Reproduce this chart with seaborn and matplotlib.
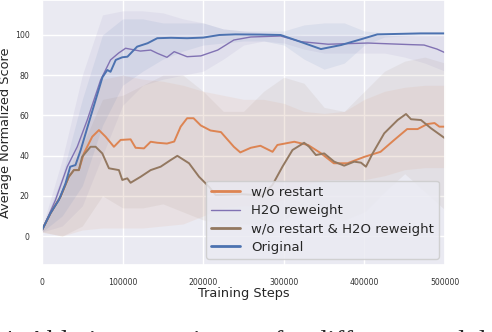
import numpy as np
import pandas as pd
import matplotlib
matplotlib.use("Agg")
import matplotlib.pyplot as plt
import seaborn as sns

# mean curves
steps_norestart = [0, 10500, 23000, 33300, 39500, 45700, 51900, 62300, 70600, 78900, 89200, 97500,
                   109900, 116100, 126500, 134800, 143000, 155000, 164000, 172000, 180000, 188000,
                   197000, 209000, 222000, 238000, 246000, 259000, 271000, 286000, 292000, 313000,
                   330000, 346000, 362000, 379000, 400000, 420000, 437000, 453000, 466000, 478000,
                   487000, 493000, 500000]
score_norestart = [3, 11.3, 19.6, 29.5, 32.8, 32.8, 41.1, 49.4, 52.7, 49.4, 44.4, 47.8,
                   48.1, 43.9, 43.6, 46.9, 46.4, 46.0, 47.0, 54.4, 58.6, 58.6,
                   55.0, 52.5, 51.7, 44.4, 41.6, 43.9, 44.9, 41.9, 45.3, 46.9,
                   45.3, 41.2, 36.2, 36.2, 39.4, 41.9, 47.8, 53.2, 53.2, 55.7,
                   56.2, 54.4, 54.4]

steps_h2o = [0, 8000, 16800, 31300, 43700, 56100, 72700, 85000, 95000, 103700, 122000, 134800,
             143000, 155000, 164000, 180000, 197000, 218000, 238000, 259000, 296000, 321000,
             355000, 404000, 457800, 474000, 490000, 500000]
score_h2o = [3, 10, 18, 34.5, 44.4, 57.7, 77.6, 87.6, 91, 93.4, 92, 92.5,
             90.9, 88.9, 91.7, 89.2, 89.6, 92.5, 97.5, 99, 99.5, 96.7,
             95.4, 96, 95.2, 95, 93, 91.2]

steps_both = [0, 10500, 23000, 33300, 39500, 45700, 49900, 60200, 66500, 74800, 83000, 95400,
              99600, 105800, 109900, 122400, 134800, 147200, 159600, 167900, 182400, 194800,
              207200, 215500, 232000, 248700, 265200, 271000, 277600, 285900, 298300, 310800,
              325200, 331400, 339800, 350100, 362500, 374900, 387300, 395700, 401900, 410200,
              424600, 441200, 451600, 457800, 470200, 482600, 500000]
score_both = [3, 11.3, 19.6, 29.5, 32.8, 32.8, 39.5, 44.4, 44.4, 41.1, 33.7, 32.8,
              27.9, 28.7, 26.5, 29.5, 32.8, 34.5, 37.8, 39.9, 36.2, 29.5,
              24.5, 20.4, 20.6, 20.8, 20.4, 19.8, 22.0, 25.4, 34.5, 42.8,
              46.4, 44.4, 40.3, 41.1, 37.0, 35.0, 37.0, 36.5, 34.5, 41.1,
              51.1, 57.7, 60.7, 58.1, 57.7, 53.6, 48.6]

steps_orig = [0, 10500, 21000, 29000, 35000, 41500, 48000, 60000, 75000, 81000, 85000, 91500,
              99500, 106000, 118000, 131000, 143000, 160000, 180000, 200000, 220000, 240000,
              270000, 296000, 320000, 346000, 371000, 396000, 416000, 470000, 500000]
score_orig = [3, 11.4, 18, 26, 34.5, 35.3, 42.8, 59, 79, 82.6, 81.7, 87.6,
              88.9, 89.2, 94.2, 95.9, 98.4, 98.6, 98.4, 98.7, 100, 100.3,
              100.2, 100, 96.7, 93, 95, 97.9, 100.3, 100.8, 100.8]

# shaded bands on a coarser grid
band_steps = [0, 25000, 50000, 75000, 100000, 125000, 150000, 175000, 200000, 225000, 250000,
              275000, 300000, 325000, 350000, 375000, 400000, 425000, 450000, 475000, 500000]
norestart_lo = [2, 0, 3, 4, 4, 4, 5, 6, 10, 14, 15, 15, 18, 25, 28, 28, 28, 30, 33, 34, 34]
norestart_hi = [4, 22, 52, 78, 80, 78, 77, 75, 72, 70, 68, 68, 66, 62, 61, 62, 68, 72, 74, 75, 75]
h2o_lo = [2, 5, 15, 40, 65, 75, 78, 80, 82, 88, 95, 97, 96, 93, 91, 91, 91, 91, 89, 86, 82]
h2o_hi = [4, 38, 80, 110, 112, 112, 111, 108, 106, 103, 102, 101, 100.5, 100, 100, 100, 100, 100,
          100, 100, 100]
both_lo = [2, 0, 5, 20, 14, 14, 16, 12, 8, 6, 6, 6, 8, 14, 10, 8, 12, 22, 31, 22, 13]
both_hi = [4, 20, 45, 68, 70, 75, 80, 80, 72, 62, 62, 72, 79, 76, 64, 62, 72, 82, 87, 89, 86]
orig_lo = [2, 10, 25, 55, 75, 82, 88, 92, 95, 96, 97, 97, 95, 88, 83, 86, 95, 99, 99.5, 100, 100]
orig_hi = [4, 30, 68, 100, 108, 108, 106, 106, 106, 103, 102, 102, 102, 105, 106, 106, 102, 101,
           101, 101, 101]

labels = ["w/o restart", "H2O reweight", "w/o restart & H2O reweight", "Original"]

sns.set_theme(style="darkgrid")
pal = sns.color_palette("deep")
colors = [pal[1], pal[4], pal[5], pal[0]]

fig = plt.figure(figsize=(4.92, 3.32), dpi=100)
ax = fig.add_axes([0.0854, 0.2018, 0.8191, 0.7982])

bands = [(norestart_lo, norestart_hi), (h2o_lo, h2o_hi), (both_lo, both_hi), (orig_lo, orig_hi)]
for (lo, hi), c in zip(bands, colors):
    ax.fill_between(band_steps, lo, hi, color=c, alpha=0.09, linewidth=0)

curves = [(steps_norestart, score_norestart, 1.4),
          (steps_h2o, score_h2o, 1.0),
          (steps_both, score_both, 1.4),
          (steps_orig, score_orig, 1.4)]
for (xs, ys, lw), c, lab in zip(curves, colors, labels):
    sns.lineplot(x=xs, y=ys, color=c, linewidth=lw, label=lab, ax=ax)

ax.set_xlim(0, 500000)
ax.set_ylim(-14.4, 117.4)
ax.set_xticks([0, 100000, 200000, 300000, 400000, 500000])
ax.set_yticks([0, 20, 40, 60, 80, 100])
ax.ticklabel_format(style="plain", axis="x")
ax.tick_params(labelsize=5.6, pad=3, labelcolor="#333333")
ax.set_xlabel("Training Steps", fontsize=9.3, labelpad=0)
ax.set_ylabel("Average Normalized Score", fontsize=9.3, labelpad=2)

leg = ax.legend(loc="lower right", fontsize=9.5, handlelength=2.2, labelspacing=0.4,
                borderaxespad=0.45, framealpha=0.85)
for line in leg.get_lines():
    line.set_linewidth(2.0)
leg.get_lines()[1].set_linewidth(1.0)

fig.text(0.0, -0.05, "4: Ablation experiments for different modules",
         family="Liberation Serif", fontsize=20, va="baseline")

fig.savefig("out.png", dpi=100)
